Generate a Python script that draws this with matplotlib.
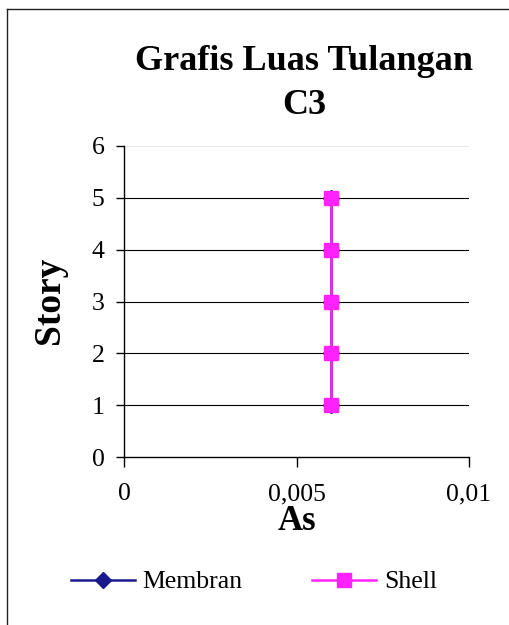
import matplotlib
matplotlib.use('Agg')
import matplotlib.pyplot as plt
from matplotlib.lines import Line2D

plt.rcParams['font.family'] = 'Liberation Serif'

# data
story = [1, 2, 3, 4, 5]
as_membran = [0.006, 0.006, 0.006, 0.006, 0.006]
as_shell = [0.006, 0.006, 0.006, 0.006, 0.006]
x_ticks = [0, 0.005, 0.01]
x_labels = ['0', '0,005', '0,01']
y_ticks = [0, 1, 2, 3, 4, 5, 6]

W, H = 509, 625
fig = plt.figure(figsize=(W / 100, H / 100), dpi=100)

# outer chart border (only left and top visible in the crop)
fig.add_artist(Line2D([6.5 / W, 6.5 / W], [0, 1 - 8.5 / H], color='#222222', lw=1.0))
fig.add_artist(Line2D([6.5 / W, 1], [1 - 8.5 / H, 1 - 8.5 / H], color='#222222', lw=1.0))

ax = fig.add_axes([124 / W, (H - 457) / H, (469 - 124) / W, (457 - 146) / H])

ax.plot(as_membran, story, color='#1a1a8c', marker='D', markersize=8, lw=1.8,
        label='Membran', zorder=3)
ax.plot(as_shell, story, color='#ff22ff', marker='s', markersize=9.5, lw=1.8,
        markeredgecolor='#ff22ff', label='Shell', zorder=4)

ax.set_xlim(0, 0.01)
ax.set_ylim(0, 6)
ax.set_xticks(x_ticks)
ax.set_xticklabels(x_labels)
ax.set_yticks(y_ticks)

for y in y_ticks[1:-1]:
    ax.axhline(y, color='black', lw=0.8, zorder=1)
ax.axhline(6, color='#e6e6e6', lw=0.8, zorder=1)

for s in ['top', 'right']:
    ax.spines[s].set_visible(False)
ax.spines['left'].set_linewidth(1.0)
ax.spines['bottom'].set_linewidth(1.0)

ax.tick_params(axis='y', direction='out', length=6, width=1, labelsize=18.5, pad=8)
ax.tick_params(axis='x', direction='out', length=7, width=1, labelsize=18.5, pad=12)

ax.set_xlabel('As', fontsize=25, fontweight='bold', labelpad=0)
ax.set_ylabel('Story', fontsize=27, fontweight='bold')
ax.yaxis.set_label_coords(-0.166, 0.505)

fig.text(304 / W, 1 - 61 / H, 'Grafis Luas Tulangan', ha='center', va='center',
         fontsize=26, fontweight='bold')
fig.text(304 / W, 1 - 106 / H, 'C3', ha='center', va='center',
         fontsize=26, fontweight='bold')

fig.legend(loc='center', bbox_to_anchor=(254 / W, 1 - 582 / H), ncol=2, frameon=False,
           fontsize=18.5, handlelength=2.5, handletextpad=0.3, columnspacing=2.7)

fig.savefig('out.png', dpi=100, facecolor='white')
